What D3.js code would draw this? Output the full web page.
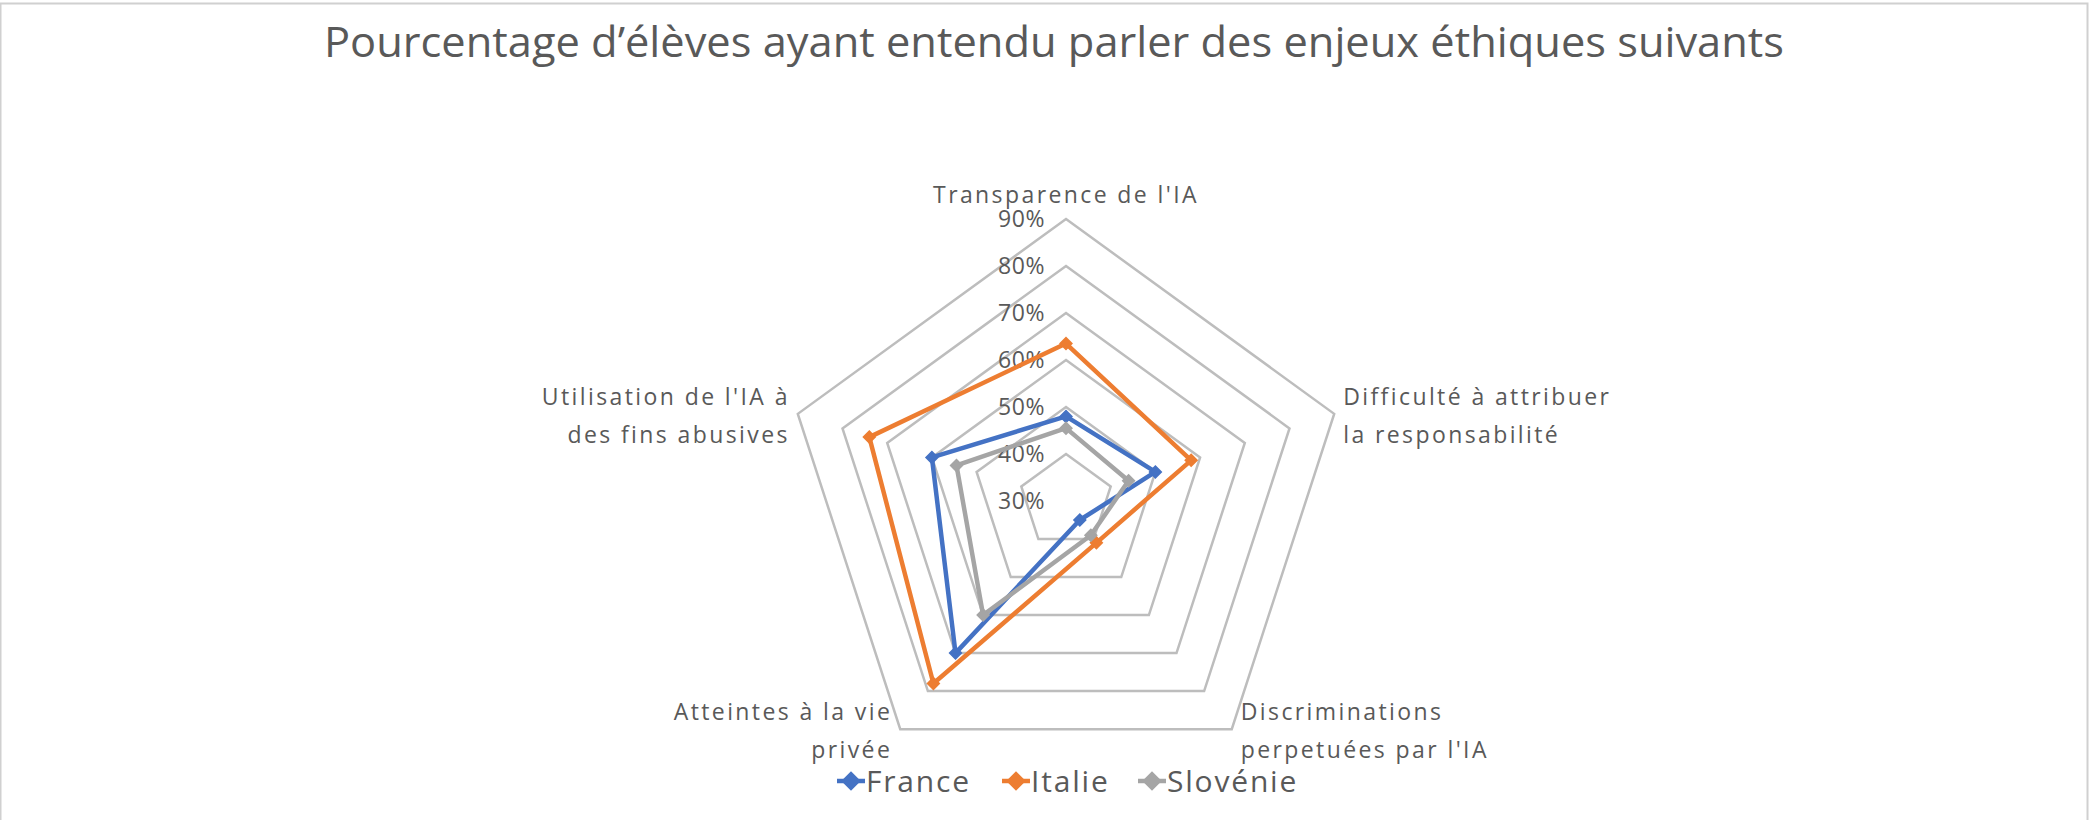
<!DOCTYPE html>
<html>
<head>
<meta charset="utf-8">
<script src="https://cdn.jsdelivr.net/npm/d3@7"></script>
<style>
  body { margin: 0; background: #fff; }
  #svgDiv { width: 2091px; height: 820px; }
  text { font-family: "Open Sans", "Noto Sans", sans-serif; fill: #595959; }
</style>
</head>
<body>
<div id="svgDiv"></div>
<script>
// chart data
var titleText = "Pourcentage d\u2019élèves ayant entendu parler des enjeux éthiques suivants";
var categories = [
    ["Transparence de l'IA"],
    ["Difficulté à attribuer", "la responsabilité"],
    ["Discriminations", "perpetuées par l'IA"],
    ["Atteintes à la vie", "privée"],
    ["Utilisation de l'IA à", "des fins abusives"]
];
var seriesNames = ["France", "Italie", "Slovénie"];
var seriesColors = ["#4472C4", "#ED7D31", "#A5A5A5"];
var france = [0.48, 0.50, 0.35, 0.70, 0.60];
var italie = [0.635, 0.58, 0.41, 0.78, 0.74];
var slovenie = [0.455, 0.44, 0.39, 0.60, 0.545];
var tickValues = [0.3, 0.4, 0.5, 0.6, 0.7, 0.8, 0.9];

var svgWidth = 2091, svgHeight = 820;
var cx = 1066, cy = 501, radius = 282;

var svg = d3.select("#svgDiv")
    .append("svg")
    .attr("width", svgWidth)
    .attr("height", svgHeight);

// chart border
svg.append("rect")
    .attr("x", 0.5).attr("y", 3.5)
    .attr("width", svgWidth - 4).attr("height", svgHeight)
    .attr("fill", "#fff")
    .attr("stroke", "#d0d0d0")
    .attr("stroke-width", 2);

// title
svg.append("text")
    .attr("x", 1054)
    .attr("y", 57)
    .attr("text-anchor", "middle")
    .attr("font-size", 42)
    .attr("textLength", 1460)
    .attr("lengthAdjust", "spacingAndGlyphs")
    .text(titleText);

var rScale = d3.scaleLinear().domain([0.3, 0.9]).range([0, radius]);
var angle = function(i){ return i * 2 * Math.PI / categories.length; };

var g = svg.append("g").attr("transform", "translate(" + cx + "," + cy + ")");

// gridlines (one pentagon per tick, skipping the centre)
var ringLine = d3.lineRadial()
    .angle(function(d, i){ return angle(i); })
    .radius(function(d){ return rScale(d); })
    .curve(d3.curveLinearClosed);

g.selectAll(".ring")
    .data(tickValues.slice(1))
    .enter().append("path")
    .attr("class", "ring")
    .attr("d", function(t){ return ringLine(categories.map(function(){ return t; })); })
    .attr("fill", "none")
    .attr("stroke", "#bdbdbd")
    .attr("stroke-width", 2.5);

// tick labels
g.selectAll(".tick")
    .data(tickValues)
    .enter().append("text")
    .attr("class", "tick")
    .attr("x", -21)
    .attr("y", function(t){ return -rScale(t); })
    .attr("dy", "0.36em")
    .attr("text-anchor", "end")
    .attr("font-size", 23)
    .attr("letter-spacing", 0.6)
    .text(d3.format(".0%"));

// series
var allSeries = [france, italie, slovenie];
var seriesLine = d3.lineRadial()
    .angle(function(d, i){ return angle(i); })
    .radius(function(d){ return rScale(d); })
    .curve(d3.curveLinearClosed);

allSeries.forEach(function(values, s){
    var sg = g.append("g");
    sg.append("path")
        .attr("d", seriesLine(values))
        .attr("fill", "none")
        .attr("stroke", seriesColors[s])
        .attr("stroke-width", 4.5)
        .attr("stroke-linejoin", "round");
    sg.selectAll("path.marker")
        .data(values)
        .enter().append("path")
        .attr("class", "marker")
        .attr("d", d3.symbol(d3.symbolSquare, 70))
        .attr("transform", function(d, i){
            var r = rScale(d), a = angle(i);
            return "translate(" + (r * Math.sin(a)) + "," + (-r * Math.cos(a)) + ") rotate(45)";
        })
        .attr("fill", seriesColors[s])
        .attr("stroke", seriesColors[s])
        .attr("stroke-width", 1.5);
});

// category labels
categories.forEach(function(lines, i){
    var a = angle(i);
    var vx = radius * Math.sin(a), vy = -radius * Math.cos(a);
    var anchor, x, y;
    if (i === 0) { anchor = "middle"; x = vx; y = vy - 16; }
    else if (vx > 0) { anchor = "start"; x = vx + 9; y = vy - 9; }
    else { anchor = "end"; x = vx - 8; y = vy - 9; }
    var t = g.append("text")
        .attr("text-anchor", anchor)
        .attr("font-size", 23)
        .attr("letter-spacing", 2.4);
    lines.forEach(function(line, k){
        t.append("tspan").attr("x", x).attr("y", y + k * 38).text(line);
    });
});

// legend
var legendX = [851, 1016, 1152];
var legend = svg.selectAll(".legend")
    .data(seriesNames)
    .enter().append("g")
    .attr("class", "legend")
    .attr("transform", function(d, i){ return "translate(" + legendX[i] + ",781)"; });

legend.append("line")
    .attr("x1", -14).attr("x2", 14)
    .attr("stroke", function(d, i){ return seriesColors[i]; })
    .attr("stroke-width", 4.5);
legend.append("path")
    .attr("d", d3.symbol(d3.symbolSquare, 190))
    .attr("transform", "rotate(45)")
    .attr("fill", function(d, i){ return seriesColors[i]; });
legend.append("text")
    .attr("x", 15)
    .attr("dy", "0.36em")
    .attr("font-size", 30)
    .attr("letter-spacing", 1.8)
    .text(function(d){ return d; });
</script>
</body>
</html>
